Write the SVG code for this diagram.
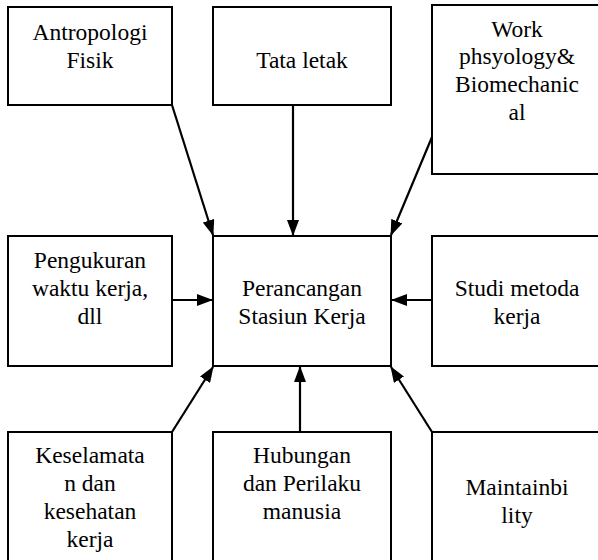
<svg xmlns="http://www.w3.org/2000/svg" width="598" height="560" viewBox="0 0 598 560">
<defs>
<marker id="ah" markerUnits="userSpaceOnUse" markerWidth="16" markerHeight="12" refX="15" refY="6" orient="auto">
<path d="M0,0 L16,6 L0,12 z" fill="#000"/>
</marker>
<style>
.box{fill:#fff;stroke:#000;stroke-width:2}
.c{stroke:#000;stroke-width:2.2;fill:none;marker-end:url(#ah)}
text{fill:#000}
</style>
</defs>
<rect width="598" height="560" fill="#fff"/>
<g id="connectors">
<line class="c" x1="172" y1="105" x2="213" y2="235"/>
<line class="c" x1="293" y1="105" x2="293" y2="235"/>
<line class="c" x1="432" y1="137" x2="391" y2="235"/>
<line class="c" x1="172" y1="300" x2="212" y2="300"/>
<line class="c" x1="432" y1="300" x2="392" y2="300"/>
<line class="c" x1="172" y1="432" x2="213" y2="367"/>
<line class="c" x1="300" y1="432" x2="300" y2="367"/>
<line class="c" x1="432" y1="432" x2="391" y2="367"/>
</g>
<g id="antropologi">
<rect class="box" x="8" y="7" width="164" height="98"/>
<text font-family="Liberation Serif, serif" font-size="23.5" text-anchor="middle" x="90" y="40">Antropologi</text>
<text font-family="Liberation Serif, serif" font-size="23.5" text-anchor="middle" x="90" y="68">Fisik</text>
</g>
<g id="tata-letak">
<rect class="box" x="213" y="7" width="178" height="98"/>
<text font-family="Liberation Serif, serif" font-size="23.5" text-anchor="middle" x="302" y="68">Tata letak</text>
</g>
<g id="work">
<rect class="box" x="432" y="5" width="170" height="169"/>
<text font-family="Liberation Serif, serif" font-size="23.5" text-anchor="middle" x="517" y="37">Work</text>
<text font-family="Liberation Serif, serif" font-size="23.5" text-anchor="middle" x="517" y="64">phsyology&amp;</text>
<text font-family="Liberation Serif, serif" font-size="23.5" text-anchor="middle" x="517" y="92">Biomechanic</text>
<text font-family="Liberation Serif, serif" font-size="23.5" text-anchor="middle" x="517" y="120">al</text>
</g>
<g id="pengukuran">
<rect class="box" x="8" y="236" width="164" height="130"/>
<text font-family="Liberation Serif, serif" font-size="23.5" text-anchor="middle" x="90" y="268">Pengukuran</text>
<text font-family="Liberation Serif, serif" font-size="23.5" text-anchor="middle" x="90" y="296">waktu kerja,</text>
<text font-family="Liberation Serif, serif" font-size="23.5" text-anchor="middle" x="90" y="324">dll</text>
</g>
<g id="perancangan">
<rect class="box" x="213" y="236" width="178" height="130"/>
<text font-family="Liberation Serif, serif" font-size="23.5" text-anchor="middle" x="302" y="296">Perancangan</text>
<text font-family="Liberation Serif, serif" font-size="23.5" text-anchor="middle" x="302" y="324">Stasiun Kerja</text>
</g>
<g id="studi">
<rect class="box" x="432" y="236" width="170" height="130"/>
<text font-family="Liberation Serif, serif" font-size="23.5" text-anchor="middle" x="517" y="296">Studi metoda</text>
<text font-family="Liberation Serif, serif" font-size="23.5" text-anchor="middle" x="517" y="324">kerja</text>
</g>
<g id="keselamatan">
<rect class="box" x="8" y="432" width="164" height="140"/>
<text font-family="Liberation Serif, serif" font-size="23.5" text-anchor="middle" x="90" y="463">Keselamata</text>
<text font-family="Liberation Serif, serif" font-size="23.5" text-anchor="middle" x="90" y="491">n dan</text>
<text font-family="Liberation Serif, serif" font-size="23.5" text-anchor="middle" x="90" y="519">kesehatan</text>
<text font-family="Liberation Serif, serif" font-size="23.5" text-anchor="middle" x="90" y="547">kerja</text>
</g>
<g id="hubungan">
<rect class="box" x="213" y="432" width="178" height="140"/>
<text font-family="Liberation Serif, serif" font-size="23.5" text-anchor="middle" x="302" y="463">Hubungan</text>
<text font-family="Liberation Serif, serif" font-size="23.5" text-anchor="middle" x="302" y="491">dan Perilaku</text>
<text font-family="Liberation Serif, serif" font-size="23.5" text-anchor="middle" x="302" y="519">manusia</text>
</g>
<g id="maintainbility">
<rect class="box" x="432" y="432" width="170" height="140"/>
<text font-family="Liberation Serif, serif" font-size="23.5" text-anchor="middle" x="517" y="495">Maintainbi</text>
<text font-family="Liberation Serif, serif" font-size="23.5" text-anchor="middle" x="517" y="523">lity</text>
</g>
</svg>
